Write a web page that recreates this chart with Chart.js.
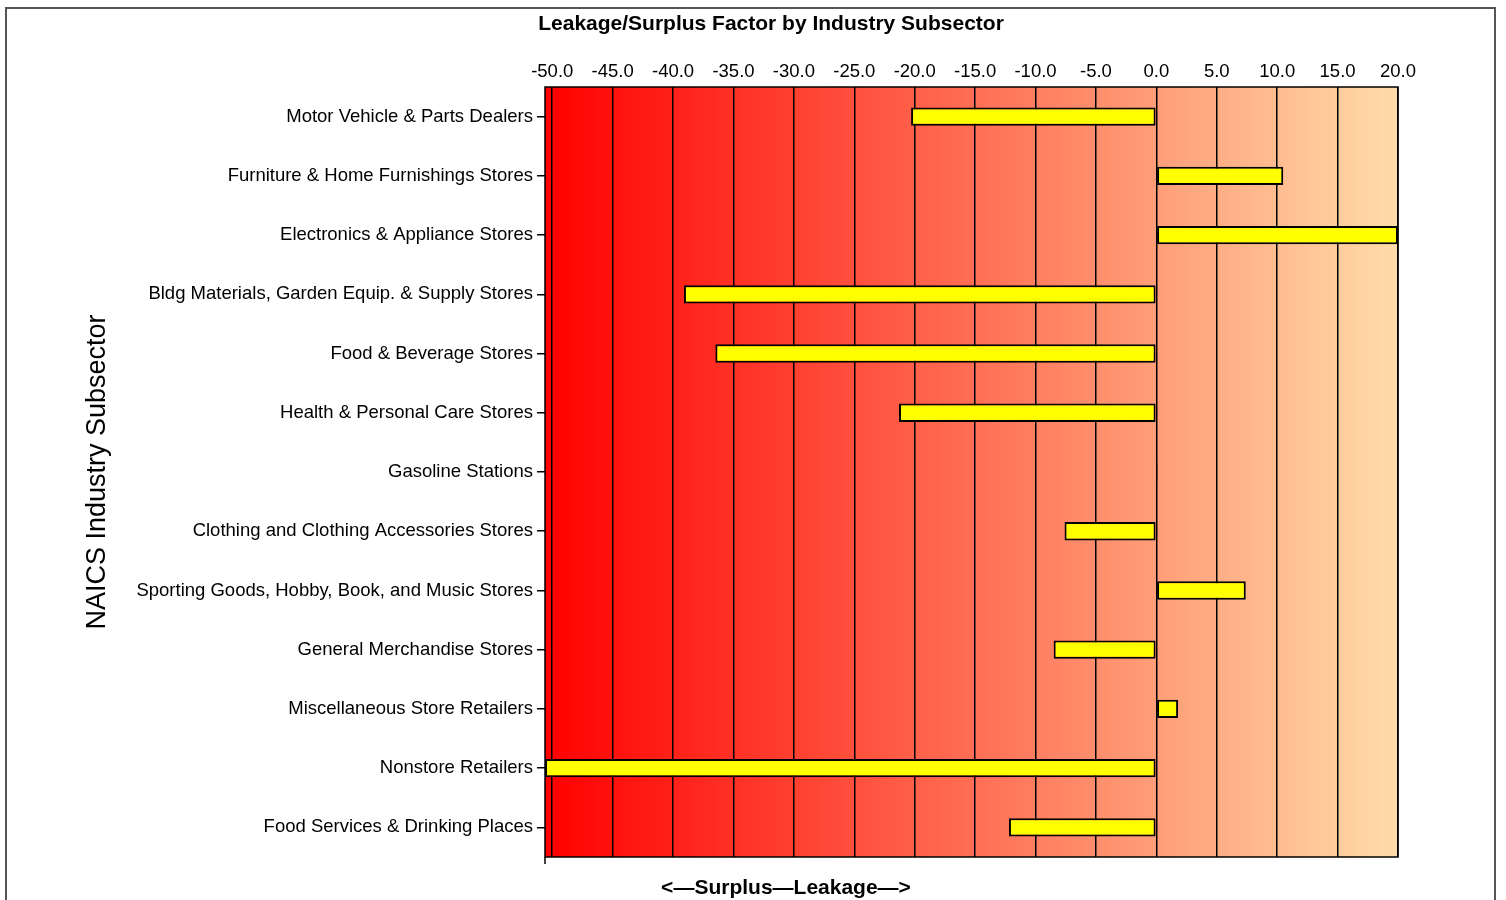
<!DOCTYPE html>
<html>
<head>
<meta charset="utf-8">
<script src="https://cdn.jsdelivr.net/npm/chart.js@4"></script>
<style>
  html, body { margin: 0; padding: 0; background: #fff; }
  #wrap { width: 1506px; height: 900px; }
</style>
</head>
<body>
<div id="wrap"><canvas id="chart"></canvas></div>
<script>
const categories = [
  'Motor Vehicle & Parts Dealers',
  'Furniture & Home Furnishings Stores',
  'Electronics & Appliance Stores',
  'Bldg Materials, Garden Equip. & Supply Stores',
  'Food & Beverage Stores',
  'Health & Personal Care Stores',
  'Gasoline Stations',
  'Clothing and Clothing Accessories Stores',
  'Sporting Goods, Hobby, Book, and Music Stores',
  'General Merchandise Stores',
  'Miscellaneous Store Retailers',
  'Nonstore Retailers',
  'Food Services & Drinking Places'
];
const factors = [-20.3, 10.5, 20.0, -39.1, -36.5, -21.3, 0.1, -7.6, 7.4, -8.5, 1.8, -50.6, -12.2];
const xTicks = [-50, -45, -40, -35, -30, -25, -20, -15, -10, -5, 0, 5, 10, 15, 20];
const xMin = -50.6;
const xMax = 20;

const FONT = '"Liberation Sans", Arial, sans-serif';

const decor = {
  id: 'decor',
  beforeDraw(chart) {
    const { ctx, chartArea: a } = chart;
    const g = ctx.createLinearGradient(a.left, 0, a.right, 0);
    g.addColorStop(0, '#ff0000');
    g.addColorStop(1, '#ffdca8');
    ctx.save();
    ctx.fillStyle = g;
    ctx.fillRect(a.left, a.top, a.right - a.left, a.bottom - a.top);
    ctx.restore();
  },
  afterDraw(chart) {
    const { ctx, chartArea: a } = chart;
    ctx.save();
    ctx.strokeStyle = '#000';
    ctx.lineWidth = 1.5;
    ctx.strokeRect(a.left, a.top, a.right - a.left, a.bottom - a.top);
    ctx.beginPath();
    ctx.moveTo(a.left, a.bottom);
    ctx.lineTo(a.left, a.bottom + 7);
    ctx.stroke();
    // outer frame
    ctx.strokeStyle = '#555';
    ctx.lineWidth = 2;
    ctx.strokeRect(6, 8, 1489, 900);
    ctx.fillStyle = '#000';
    ctx.textAlign = 'center';
    ctx.textBaseline = 'middle';
    ctx.font = 'bold 21px ' + FONT;
    ctx.fillText('Leakage/Surplus Factor by Industry Subsector', 771, 24);
    ctx.fillText('<\u2014Surplus\u2014Leakage\u2014>', 786, 888);
    ctx.restore();
  }
};

new Chart(document.getElementById('chart'), {
  type: 'bar',
  data: {
    labels: categories,
    datasets: [{
      data: factors,
      backgroundColor: '#ffff00',
      borderColor: '#000',
      borderWidth: 2,
      borderSkipped: false,
      barPercentage: 0.31,
      categoryPercentage: 1
    }]
  },
  options: {
    indexAxis: 'y',
    responsive: true,
    maintainAspectRatio: false,
    animation: false,
    layout: { padding: { left: 0, top: 0, right: 108, bottom: 43 } },
    plugins: {
      legend: { display: false },
      tooltip: { enabled: false }
    },
    scales: {
      x: {
        position: 'top',
        min: xMin,
        max: xMax,
        afterBuildTicks: s => { s.ticks = xTicks.map(v => ({ value: v })); },
        afterFit: s => { s.height = 87; },
        grid: { color: '#000', lineWidth: 1.5, drawTicks: false },
        border: { display: false },
        ticks: {
          color: '#000',
          font: { family: FONT, size: 18.5 },
          padding: 4,
          maxRotation: 0,
          callback: v => v.toFixed(1)
        }
      },
      y: {
        afterFit: s => { s.width = 545; },
        grid: { offset: false, drawOnChartArea: false, color: '#000', lineWidth: 1.5, tickLength: 8 },
        border: { display: false },
        ticks: {
          color: '#000',
          font: { family: FONT, size: 18.5 },
          padding: 4,
          autoSkip: false
        },
        title: {
          display: true,
          text: 'NAICS Industry Subsector',
          color: '#000',
          font: { family: FONT, size: 27 },
          padding: { top: 81 }
        }
      }
    }
  },
  plugins: [decor]
});
</script>
</body>
</html>
